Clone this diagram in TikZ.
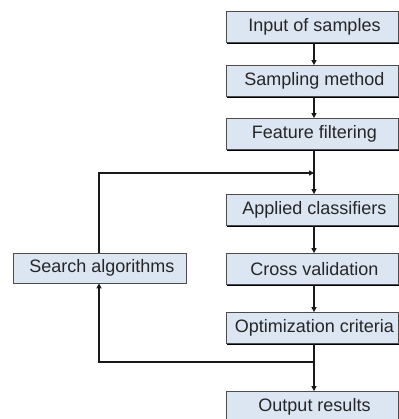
\documentclass[tikz,border=0pt]{standalone}
\usepackage{fontspec}
\setmainfont{Liberation Sans}
\usetikzlibrary{arrows.meta,shadows}
\definecolor{boxfill}{RGB}{220,230,242}
\tikzset{
  stage/.style={draw=black!70, line width=0.8bp, fill=boxfill,
    minimum width=172bp, minimum height=31bp, inner sep=0pt,
    font=\fontsize{18bp}{21bp}\selectfont, text=black!85,
    execute at begin node=\hspace*{5bp},
    drop shadow={shadow xshift=1.3bp, shadow yshift=-1.3bp, fill=black, opacity=1}},
  flow/.style={line width=1.7bp, draw=black!90,
    -{Triangle[length=5bp,width=5bp]}},
}
\begin{document}
\begin{tikzpicture}[x=1bp,y=-1bp]
\useasboundingbox (0,0) rectangle (399,419);
\clip (0,0) rectangle (399,419);
% main pipeline
\node[stage] (inp) at (312,27)  {Input of samples};
\node[stage] (smp) at (312,81)  {Sampling method};
\node[stage] (flt) at (312,134) {Feature filtering};
\node[stage] (cls) at (312,210) {Applied classifiers};
\node[stage] (cv)  at (312,269) {Cross validation};
\node[stage] (opt) at (312,328) {Optimization criteria};
\node[stage] (out) at (312,407) {Output results};
% feedback block
\node[stage, minimum width=173bp, minimum height=30bp] (srch) at (99.5,268) {Search algorithms};
% routing helpers
\coordinate (spine) at (314,0);
\coordinate (loopT) at (99,173);
\coordinate (loopB) at (99,362);
% pipeline connectors
\draw[flow] (inp.south -| spine) -- (smp.north -| spine);
\draw[flow] (smp.south -| spine) -- (flt.north -| spine);
\draw[flow] (flt.south -| spine) -- (cls.north -| spine);
\draw[flow] (cls.south -| spine) -- (cv.north -| spine);
\draw[flow] (cv.south -| spine) -- (opt.north -| spine);
\draw[flow] (opt.south -| spine) -- (out.north -| spine);
% feedback loop
\draw[flow] (srch.north -| loopT) -- (loopT) -- (loopT -| spine);
\draw[flow] (loopB -| spine) -- (loopB) -- (srch.south -| loopB);
\end{tikzpicture}
\end{document}
